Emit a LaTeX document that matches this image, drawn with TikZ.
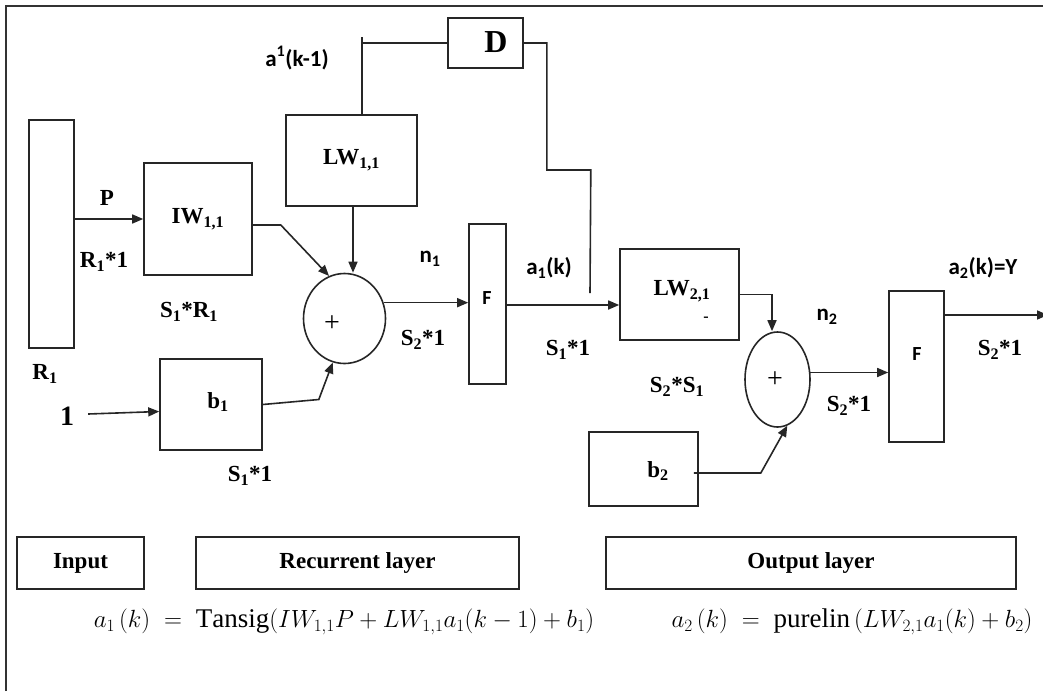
\documentclass[tikz,border=0pt]{standalone}
\usepackage{fontspec}
\setmainfont{Liberation Serif}
\newfontfamily\calfont{Carlito}
\usetikzlibrary{arrows.meta,shapes.geometric}
\begin{document}
\begin{tikzpicture}[x=1pt,y=-1pt,
  box/.style={draw=black!85, line width=1.6pt, inner sep=0pt, font=\bfseries\fontsize{23}{26}\selectfont},
  ell/.style={draw=black!85, line width=1.6pt, ellipse, inner sep=0pt},
  lab/.style={font=\bfseries\fontsize{23}{26}\selectfont, inner sep=0pt},
  slab/.style={font=\calfont\bfseries\fontsize{23}{26}\selectfont, inner sep=0pt},
  flab/.style={font=\calfont\bfseries\fontsize{20}{22}\selectfont, inner sep=0pt},
  eqn/.style={font=\fontsize{27}{30}\selectfont, inner sep=0pt},
  arr/.style={-{Triangle[length=11pt,width=9pt]}, line width=1.6pt, draw=black!85},
  ln/.style={line width=1.6pt, draw=black!85}]
\useasboundingbox (0,0) rectangle (1043,691);
% frame
\draw[line width=2.4pt, draw=black!80] (6,691) -- (6,6) -- (1043,6);
% boxes
\node[box, minimum width=45, minimum height=228] (inbar) at (51.5,234) {};
\node[box, minimum width=108, minimum height=112] (iw) at (198,219) {IW\textsubscript{1,1}};
\node[box, minimum width=131, minimum height=91] (lw11) at (351.5,160.5) {LW\textsubscript{1,1}};
\node[box, minimum width=75, minimum height=50] (d) at (485.5,43) {};
\node[lab, font=\bfseries\fontsize{32}{34}\selectfont] (dlab) at (496,42) {D};
\node[ell, minimum width=82, minimum height=90] (sum1) at (344.5,318.5) {};
\node[box, minimum width=102, minimum height=91] (b1) at (211,404.5) {};
\node[lab] (b1lab) at (218,402) {b\textsubscript{1}};
\node[box, minimum width=37, minimum height=160] (f1) at (487.5,304) {};
\node[box, minimum width=119, minimum height=91] (lw21) at (679.5,294.5) {};
\node[lab] (lw21lab) at (682,291) {LW\textsubscript{2,1}};
\node[font=\bfseries\fontsize{16}{18}\selectfont, inner sep=0pt] (dash) at (706,319) {-};
\node[ell, minimum width=65, minimum height=95] (sum2) at (777.5,379.5) {};
\node[box, minimum width=55, minimum height=151] (f2) at (916.5,366.5) {};
\node[box, minimum width=109, minimum height=74] (b2) at (643.5,469) {};
\node[lab] (b2lab) at (658,471) {b\textsubscript{2}};
\node[box, minimum width=127, minimum height=52] (inp) at (80.5,563) {Input};
\node[box, minimum width=323, minimum height=52] (rec) at (357.5,563) {Recurrent layer};
\node[box, minimum width=410, minimum height=52] (outl) at (811,563) {Output layer};
% plus signs and F
\node[inner sep=0pt, font=\fontsize{28}{30}\selectfont] (p1) at (332,324) {+};
\node[inner sep=0pt, font=\fontsize{28}{30}\selectfont] (p2) at (775,380) {+};
\node[flab] (f1lab) at (487,298) {F};
\node[flab] (f2lab) at (917,354) {F};
% labels
\node[lab] (plab) at (107,198) {P};
\node[lab] (r1x1) at (104,262) {R\textsubscript{1}*1};
\node[lab] (s1r1) at (189,312) {S\textsubscript{1}*R\textsubscript{1}};
\node[lab] (r1) at (45,374) {R\textsubscript{1}};
\node[lab, font=\bfseries\fontsize{28}{30}\selectfont] (one) at (67,416) {1};
\node[lab] (s1x1a) at (250,476) {S\textsubscript{1}*1};
\node[slab] (ak1) at (297,58) {a\textsuperscript{1}(k-1)};
\node[slab] (n1) at (430,259) {n\textsubscript{1}};
\node[lab] (s2x1a) at (423,340) {S\textsubscript{2}*1};
\node[slab] (a1k) at (549,268) {a\textsubscript{1}(k)};
\node[lab] (s1x1b) at (568,350) {S\textsubscript{1}*1};
\node[lab] (s2s1) at (677,387) {S\textsubscript{2}*S\textsubscript{1}};
\node[slab] (n2) at (827,317) {n\textsubscript{2}};
\node[lab] (s2x1b) at (849,406) {S\textsubscript{2}*1};
\node[slab] (a2k) at (983,268) {a\textsubscript{2}(k)=Y};
\node[lab] (s2x1c) at (1000,350) {S\textsubscript{2}*1};
% equations
\node[eqn] (eq1) at (344,622) {$a_1\,(k)\;=\;\mathrm{Tansig}(IW_{1,1}P + LW_{1,1}a_1(k-1) + b_1)$};
\node[eqn] (eq2) at (852,622) {$a_2\,(k)\;=\;\mathrm{purelin}\,(LW_{2,1}a_1(k) + b_2)$};
% connectors
\draw[arr] (inbar.east |- iw.west) -- (iw.west);
\draw[arr] ([yshift=-6pt]iw.east) -- ++(28,0) -- (sum1.110);
\draw[arr] ([xshift=1.5pt]lw11.south) -- ([xshift=1.5pt]lw11.south |- sum1.north);
\draw[arr] (b1.east) -- ++(56,-5) -- (sum1.255);
\draw[arr] (sum1.22) -- (f1.west |- sum1.22);
\coordinate (a1in) at ([yshift=-10.5pt]lw21.west);
\draw[arr] (f1.east |- a1in) -- (a1in);
\draw[ln] ([xshift=10.5pt]lw11.north) -- ([xshift=10.5pt]lw11.north |- 0,37);
\draw[ln] ([xshift=10.5pt]lw11.north |- d.west) -- (d.west);
\coordinate (fbend) at (590,293);
\draw[ln] (d.east) -- ++(23,0) -- ++(0,127) -- ++(44,0) -- (fbend);
\draw[arr] (lw21.east) -| ([xshift=-5.5pt]sum2.north);
\draw[arr] (sum2.12) -- (f2.west |- sum2.12);
\coordinate (out) at (1048,315);
\draw[arr] (f2.east |- out) -- (out);
\draw[arr] ([yshift=-4pt]b2.east) ++(-5,0) -- ++(67,0) -- (sum2.282);
\draw[arr] ([xshift=14pt,yshift=2pt]one.east) -- ([yshift=-7pt]b1.west);
\end{tikzpicture}
\end{document}
